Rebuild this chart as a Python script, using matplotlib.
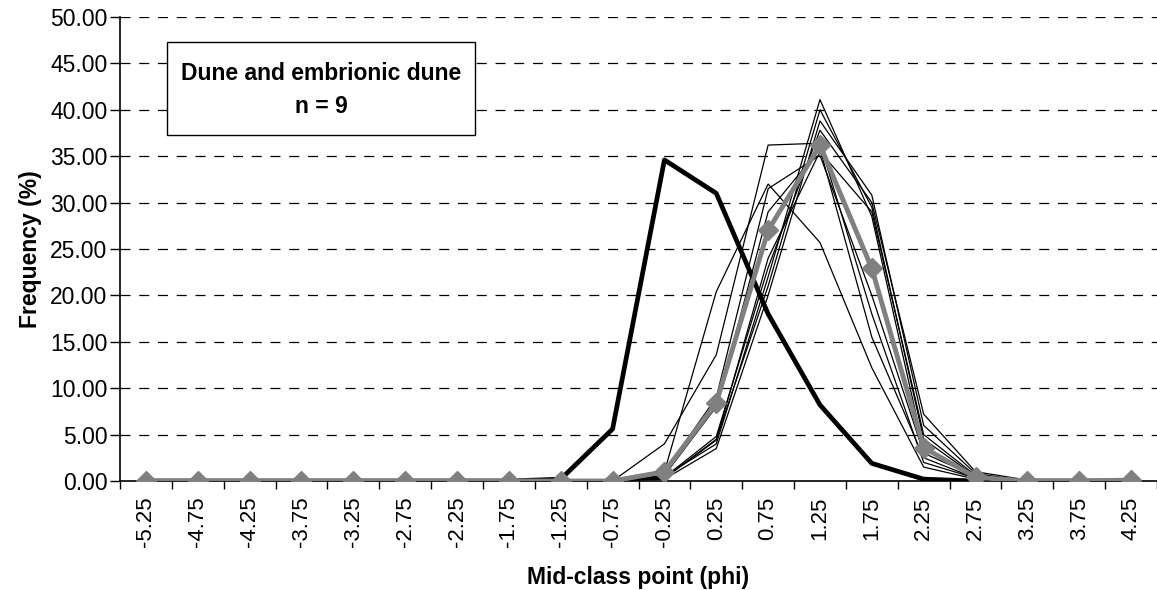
import matplotlib
matplotlib.use("Agg")
import matplotlib.pyplot as plt
import numpy as np

# mid-class points (phi)
classes = ["-5.25", "-4.75", "-4.25", "-3.75", "-3.25", "-2.75", "-2.25", "-1.75",
           "-1.25", "-0.75", "-0.25", "0.25", "0.75", "1.25", "1.75", "2.25",
           "2.75", "3.25", "3.75", "4.25"]

# individual dune samples (thin lines)
zeros8 = [0.0] * 8
samples = [
    zeros8 + [0.0, 0.0, 4.0, 13.6, 36.2, 36.4, 18.0, 2.0, 0.3, 0.0, 0.0, 0.0],
    zeros8 + [0.0, 0.0, 1.0, 20.4, 32.0, 25.7, 12.2, 1.5, 0.2, 0.0, 0.0, 0.0],
    zeros8 + [0.0, 0.0, 1.0, 9.0, 31.5, 35.1, 20.0, 3.0, 0.5, 0.0, 0.0, 0.0],
    zeros8 + [0.0, 0.0, 0.5, 4.0, 22.0, 41.1, 28.5, 3.5, 0.4, 0.0, 0.0, 0.0],
    zeros8 + [0.0, 0.0, 0.3, 4.5, 21.0, 40.0, 29.5, 4.5, 0.5, 0.0, 0.0, 0.0],
    zeros8 + [0.0, 0.0, 0.2, 3.5, 20.0, 38.8, 30.8, 6.0, 0.8, 0.0, 0.0, 0.0],
    zeros8 + [0.0, 0.0, 0.4, 4.8, 23.0, 37.8, 30.0, 7.2, 1.0, 0.1, 0.0, 0.0],
    zeros8 + [0.0, 0.0, 0.3, 4.4, 24.0, 35.5, 29.0, 5.0, 0.6, 0.0, 0.0, 0.0],
    zeros8 + [0.0, 0.0, 0.6, 8.0, 29.0, 35.8, 15.5, 2.5, 0.3, 0.0, 0.0, 0.0],
]

# outlier sample (thick black line)
coarse = zeros8 + [0.2, 5.6, 34.6, 31.0, 18.0, 8.2, 1.9, 0.2, 0.0, 0.0, 0.0, 0.0]

# mean curve (gray with diamonds)
mean = zeros8 + [0.0, 0.0, 1.0, 8.4, 27.0, 36.2, 22.9, 3.6, 0.4, 0.0, 0.0, 0.1]

yticks = [0, 5, 10, 15, 20, 25, 30, 35, 40, 45, 50]

plt.rcParams["font.family"] = ["Liberation Sans", "DejaVu Sans"]

fig = plt.figure(figsize=(11.57, 5.90), dpi=100)
ax = fig.add_axes([120 / 1157, 109 / 590, 1037 / 1157, 464 / 590])

x = np.arange(len(classes))
for s in samples:
    ax.plot(x, s, color="black", lw=0.9, zorder=3)
ax.plot(x, coarse, color="black", lw=3.4, zorder=4)
ax.plot(x, mean, color="#808080", lw=3.5, marker="D", ms=10,
        markerfacecolor="#808080", markeredgecolor="#808080", zorder=5)

ax.set_xlim(-0.5, len(classes) - 0.5)
ax.set_ylim(0, 50)

# category boundaries carry the tick marks, labels sit at the centres
ax.set_xticks(np.arange(len(classes) + 1) - 0.5)
ax.set_xticklabels([])
ax.set_xticks(x, minor=True)
ax.set_xticklabels(classes, minor=True, rotation=90, fontsize=16)
ax.tick_params(axis="x", which="major", direction="out", length=6, width=1)
ax.tick_params(axis="x", which="minor", length=0, pad=11)

ax.set_yticks(yticks)
ax.set_yticklabels([f"{v:.2f}" for v in yticks], fontsize=16.5)
ax.tick_params(axis="y", direction="out", length=7, width=1, pad=2)

for v in yticks[1:]:
    ax.axhline(v, color="black", lw=0.9, ls=(0, (8, 7)), zorder=1)

for side in ("top", "right"):
    ax.spines[side].set_visible(False)
ax.spines["left"].set_linewidth(1.2)
ax.spines["bottom"].set_linewidth(1.2)

ax.set_xlabel("Mid-class point (phi)", fontsize=16.5, fontweight="bold", labelpad=14)
ax.set_ylabel("Frequency (%)", fontsize=16.5, fontweight="bold", labelpad=6)

# annotation box
ax.add_patch(plt.Rectangle((0.0455, 0.746), 0.297, 0.2, transform=ax.transAxes,
                           facecolor="white", edgecolor="black", lw=1, zorder=6))
ax.text(0.194, 0.842, "Dune and embrionic dune\nn = 9", transform=ax.transAxes,
        ha="center", va="center", fontsize=16.5, fontweight="bold", linespacing=1.55,
        zorder=7)

fig.savefig("out.png", dpi=100)
